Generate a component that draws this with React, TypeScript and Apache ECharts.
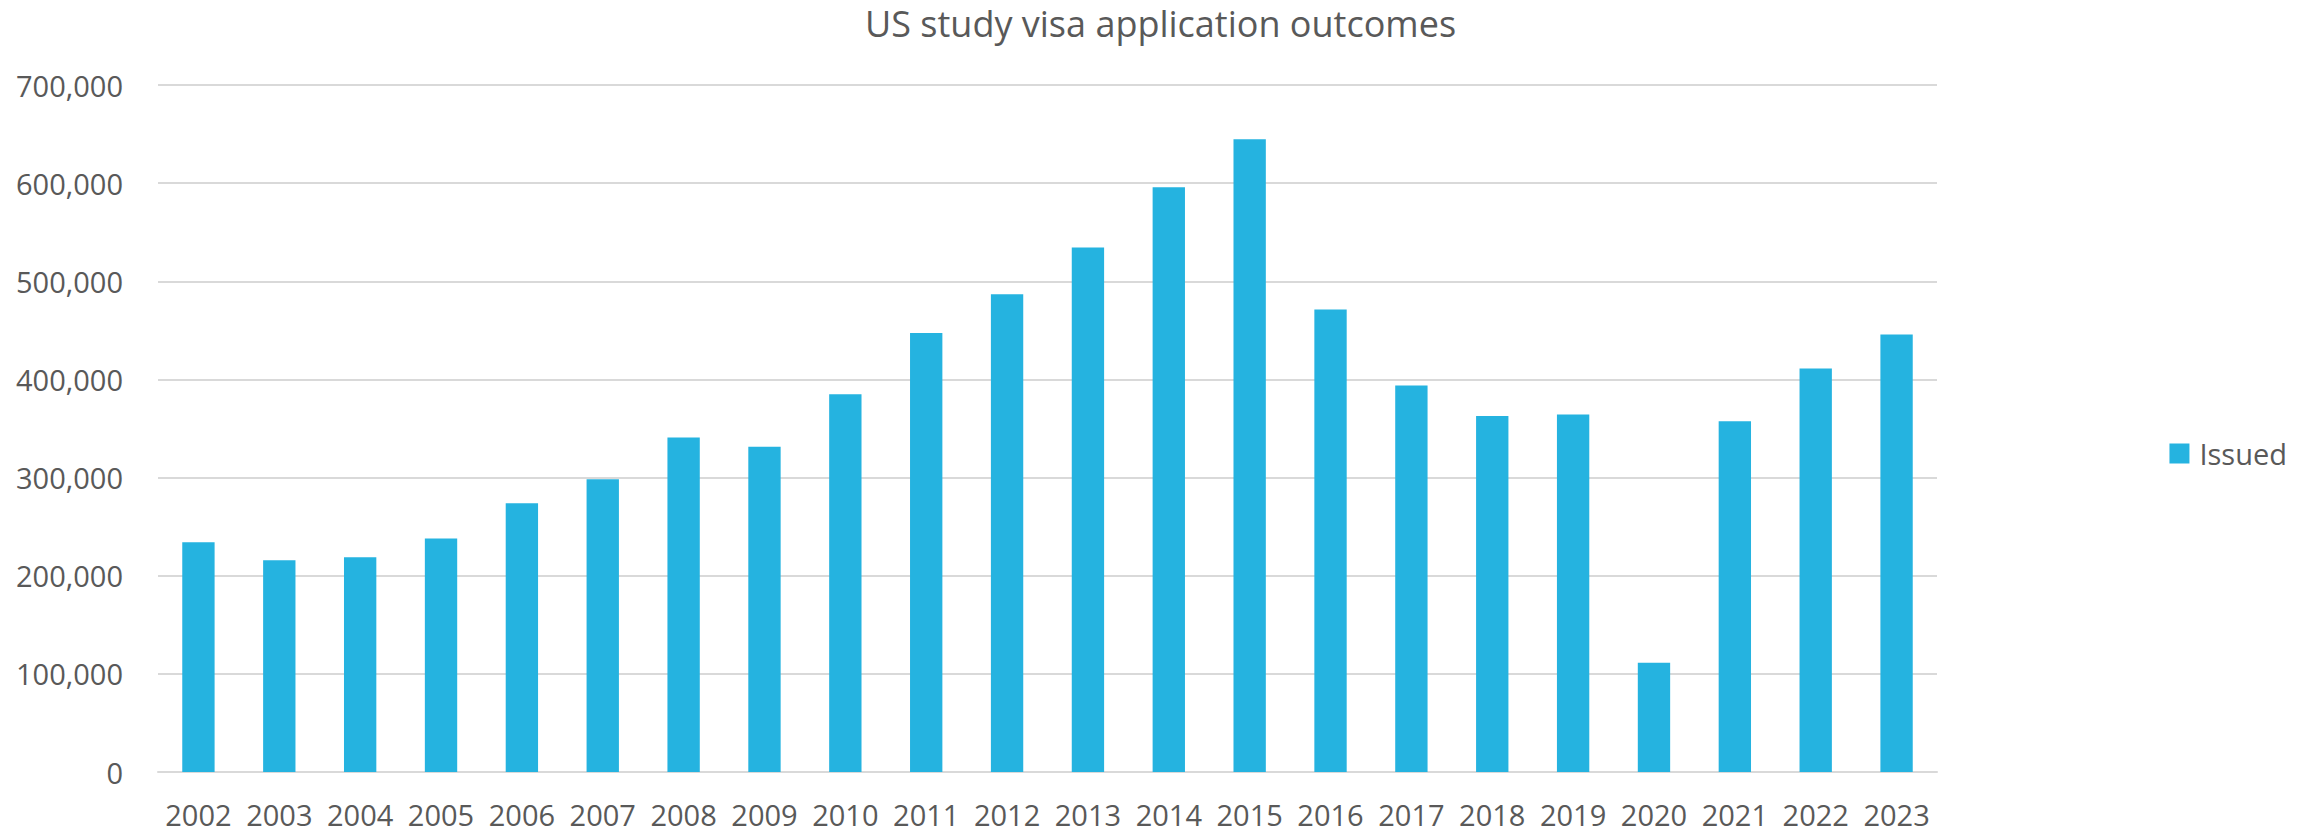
import React, { useEffect, useRef } from "react";
import * as echarts from "echarts";

const years = ["2002","2003","2004","2005","2006","2007","2008","2009","2010","2011","2012","2013","2014","2015","2016","2017","2018","2019","2020","2021","2022","2023"];
const issued = [234100,215700,218800,237900,273800,298300,340800,331300,385000,447200,486900,534500,595700,644600,471300,393800,362800,364200,111400,357400,411100,445800];
const yTicks = { min: 0, max: 700000, interval: 100000 };

const FONT = "'Open Sans', 'Noto Sans', sans-serif";
const TEXT = "#595959";
const BAR = "#25B3E0";

export default function App() {
  const ref = useRef<HTMLDivElement>(null);
  useEffect(() => {
    document.body.style.margin = "0";
    const chart = echarts.init(ref.current!, null, { renderer: "svg" });
    chart.setOption({
      animation: false,
      backgroundColor: "#ffffff",
      title: {
        text: "US study visa application outcomes",
        left: "center",
        top: 0,
        textStyle: { fontFamily: FONT, fontSize: 36, fontWeight: "normal", color: TEXT },
      },
      legend: {
        data: ["Issued"],
        right: 29,
        top: 434,
        orient: "vertical",
        icon: "rect",
        itemWidth: 20,
        itemHeight: 20,
        itemGap: 10,
        textStyle: { fontFamily: FONT, fontSize: 29, color: TEXT, padding: [0, 0, 0, 5] },
      },
      grid: { left: 158, right: 384, top: 85, bottom: 62, containLabel: false },
      xAxis: {
        type: "category",
        data: years,
        axisLine: { show: true, lineStyle: { color: "#D9D9D9", width: 2 } },
        axisTick: { show: false },
        axisLabel: { fontFamily: FONT, fontSize: 29, color: TEXT, margin: 28, interval: 0 },
      },
      yAxis: {
        type: "value",
        min: yTicks.min,
        max: yTicks.max,
        interval: yTicks.interval,
        axisLine: { show: false },
        axisTick: { show: false },
        splitLine: { lineStyle: { color: "#D9D9D9", width: 2 } },
        axisLabel: {
          fontFamily: FONT,
          fontSize: 29,
          color: TEXT,
          margin: 35,
          formatter: (v: number) => v.toLocaleString("en-US"),
        },
      },
      series: [
        {
          name: "Issued",
          type: "bar",
          data: issued,
          barCategoryGap: "60%",
          itemStyle: { color: BAR },
        },
      ],
    });
    return () => chart.dispose();
  }, []);
  return <div ref={ref} style={{ width: 2321, height: 834 }} />;
}
